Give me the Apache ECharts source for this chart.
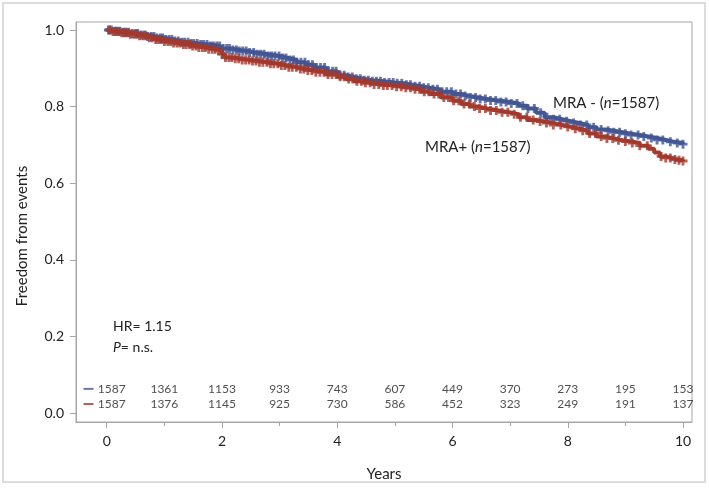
<!DOCTYPE html>
<html><head><meta charset="utf-8">
<script src="https://cdn.jsdelivr.net/npm/echarts@6/dist/echarts.min.js"></script>
<style>html,body{margin:0;padding:0;background:#fff}#c{width:709px;height:489px}</style>
</head><body><div id="c"></div>
<script>
// Kaplan-Meier step points [years, survival]
const mraMinusSteps = [[0,1.000],[0.1,0.997],[0.25,0.994],[0.4,0.991],[0.55,0.987],[0.7,0.983],[0.85,0.979],[1.0,0.975],[1.15,0.971],[1.3,0.968],[1.45,0.965],[1.6,0.962],[1.8,0.958],[1.97,0.952],[2.15,0.948],[2.3,0.945],[2.45,0.941],[2.6,0.937],[2.8,0.932],[3.0,0.927],[3.15,0.922],[3.3,0.916],[3.45,0.909],[3.6,0.902],[3.8,0.892],[4.0,0.882],[4.15,0.877],[4.3,0.873],[4.45,0.869],[4.6,0.866],[4.8,0.863],[5.0,0.861],[5.15,0.857],[5.3,0.853],[5.45,0.849],[5.6,0.845],[5.8,0.839],[6.0,0.833],[6.15,0.828],[6.3,0.824],[6.45,0.820],[6.6,0.816],[6.8,0.812],[7.0,0.808],[7.15,0.802],[7.3,0.795],[7.45,0.784],[7.6,0.772],[7.75,0.767],[7.9,0.762],[8.05,0.757],[8.2,0.752],[8.35,0.746],[8.5,0.740],[8.65,0.737],[8.8,0.733],[8.95,0.729],[9.1,0.726],[9.25,0.722],[9.4,0.718],[9.55,0.713],[9.7,0.708],[9.85,0.705],[10.0,0.702]];
const mraPlusSteps = [[0,1.000],[0.1,0.996],[0.25,0.993],[0.4,0.989],[0.55,0.985],[0.7,0.980],[0.85,0.975],[1.0,0.970],[1.15,0.966],[1.3,0.962],[1.45,0.958],[1.6,0.954],[1.75,0.950],[1.9,0.946],[2.0,0.937],[2.05,0.928],[2.2,0.925],[2.35,0.922],[2.5,0.919],[2.65,0.916],[2.8,0.912],[3.0,0.907],[3.15,0.903],[3.3,0.898],[3.45,0.894],[3.6,0.890],[3.8,0.884],[4.0,0.878],[4.15,0.872],[4.3,0.866],[4.45,0.862],[4.6,0.858],[4.8,0.855],[5.0,0.852],[5.15,0.849],[5.3,0.845],[5.45,0.839],[5.6,0.833],[5.8,0.824],[6.0,0.815],[6.15,0.807],[6.3,0.800],[6.45,0.795],[6.6,0.790],[6.8,0.785],[7.0,0.780],[7.15,0.772],[7.3,0.765],[7.45,0.761],[7.6,0.757],[7.75,0.752],[7.9,0.747],[8.05,0.742],[8.2,0.737],[8.35,0.730],[8.5,0.722],[8.65,0.717],[8.8,0.712],[8.95,0.709],[9.1,0.705],[9.25,0.698],[9.4,0.690],[9.5,0.680],[9.6,0.670],[9.7,0.666],[9.8,0.662],[9.9,0.660],[10.0,0.658]];
// censoring times (years)
const mraMinusCensor = [0.03,0.08,0.14,0.18,0.23,0.29,0.33,0.38,0.44,0.5,0.54,0.6,0.66,0.71,0.77,0.82,0.87,0.93,0.97,1.02,1.08,1.13,1.18,1.24,1.3,1.35,1.41,1.46,1.51,1.57,1.63,1.68,1.74,1.8,1.85,1.91,1.96,2.02,2.08,2.13,2.19,2.25,2.3,2.36,2.42,2.48,2.55,2.61,2.67,2.73,2.8,2.86,2.92,2.99,3.05,3.11,3.18,3.24,3.3,3.37,3.44,3.5,3.57,3.64,3.71,3.78,3.85,3.92,3.98,4.05,4.12,4.19,4.26,4.33,4.4,4.47,4.54,4.61,4.68,4.75,4.82,4.9,4.97,5.04,5.12,5.2,5.27,5.35,5.43,5.5,5.58,5.66,5.74,5.82,5.9,5.98,6.06,6.14,6.22,6.31,6.4,6.48,6.57,6.66,6.75,6.84,6.93,7.02,7.12,7.22,7.31,7.42,7.53,7.64,7.75,7.86,7.98,8.1,8.22,8.33,8.45,8.58,8.7,8.8,8.9,9.0,9.1,9.22,9.32,9.45,9.55,9.65,9.78,9.9,10.0];
const mraPlusCensor = [0.05,0.11,0.16,0.21,0.26,0.31,0.36,0.41,0.47,0.52,0.57,0.63,0.68,0.74,0.79,0.85,0.9,0.95,1.0,1.06,1.11,1.16,1.22,1.27,1.33,1.38,1.44,1.49,1.55,1.6,1.66,1.71,1.77,1.83,1.88,1.94,2.0,2.06,2.12,2.17,2.23,2.29,2.35,2.41,2.47,2.53,2.59,2.65,2.71,2.78,2.84,2.9,2.97,3.03,3.09,3.16,3.22,3.29,3.36,3.42,3.49,3.56,3.63,3.7,3.77,3.84,3.91,3.98,4.05,4.12,4.2,4.27,4.34,4.42,4.49,4.57,4.64,4.72,4.8,4.87,4.95,5.03,5.11,5.19,5.27,5.35,5.43,5.51,5.59,5.68,5.76,5.85,5.93,6.02,6.11,6.2,6.29,6.38,6.47,6.57,6.66,6.76,6.86,6.96,7.07,7.18,7.29,7.4,7.52,7.63,7.75,7.88,8.0,8.13,8.26,8.38,8.48,8.58,8.68,8.78,8.88,9.0,9.12,9.25,9.38,9.62,9.7,9.78,9.86,9.93,10.0];
// numbers at risk
const riskYears = [0,1,2,3,4,5,6,7,8,9,10];
const riskMinus = [1587,1361,1153,933,743,607,449,370,273,195,153];
const riskPlus = [1587,1376,1145,925,730,586,452,323,249,191,137];
const yTicks = [0,0.2,0.4,0.6,0.8,1.0];
const xMajor = [0,2,4,6,8,10];
const xMinor = [0,1,2,3,4,5,6,7,8,9,10];

const BLUE = '#445694', RED = '#A23A2E';
const FONT = 'Lato, "Open Sans", sans-serif';
function km(steps, t){ let v = steps[0][1]; for (const s of steps){ if (s[0] <= t) v = s[1]; } return v; }
const plus = 'path://M3.4,0H6.6V3.4H10V6.6H6.6V10H3.4V6.6H0V3.4H3.4Z';
const xmin = -0.533, xmax = 10.156, ymin = -0.0235, ymax = 1.0209;

const chart = echarts.init(document.getElementById('c'), null, {renderer:'canvas'});
chart.setOption({
  animation:false,
  backgroundColor:'#fff',
  textStyle:{fontFamily:FONT},
  grid:{left:76,right:17,top:22,bottom:67,show:true,borderColor:'#a6a6a6',borderWidth:1},
  xAxis:[{
    type:'value',min:xmin,max:xmax,
    axisLine:{show:true,onZero:false,lineStyle:{color:'#a6a6a6'}},
    axisTick:{show:true,customValues:xMajor,length:6,lineStyle:{color:'#a6a6a6'}},
    axisLabel:{customValues:xMajor,color:'#222',fontSize:14,margin:12,fontFamily:FONT},
    splitLine:{show:false},
    name:'Years',nameLocation:'middle',nameGap:45,nameTextStyle:{fontSize:15,color:'#222',fontFamily:FONT}
  },{
    type:'value',min:xmin,max:xmax,position:'bottom',
    axisLine:{show:false,onZero:false},
    axisTick:{show:true,customValues:xMinor,length:4,lineStyle:{color:'#a6a6a6'}},
    axisLabel:{show:false},splitLine:{show:false}
  }],
  yAxis:{
    type:'value',min:ymin,max:ymax,
    axisLine:{show:true,onZero:false,lineStyle:{color:'#a6a6a6'}},
    axisTick:{show:true,customValues:yTicks,length:6,lineStyle:{color:'#a6a6a6'}},
    axisLabel:{customValues:yTicks,formatter:v=>v.toFixed(1),color:'#222',fontSize:14,margin:12,fontFamily:FONT},
    splitLine:{show:false}
  },
  graphic:[
    {type:'rect',shape:{x:3,y:3,width:702,height:479},style:{fill:'none',stroke:'#dcdcdc',lineWidth:2},silent:true},
    {type:'text',x:22,y:236,rotation:Math.PI/2,style:{text:'Freedom from events',fill:'#222',font:'15px '+FONT,align:'center',verticalAlign:'middle'}},
    {type:'text',x:113,y:326,style:{text:'HR= 1.15',fill:'#222',font:'14px '+FONT,verticalAlign:'middle'}},
    {type:'text',x:113,y:347,style:{text:'{i|P}= n.s.',fill:'#222',font:'14px '+FONT,verticalAlign:'middle',rich:{i:{fontStyle:'italic',fontSize:14,fontFamily:FONT}}}},
    {type:'text',x:553,y:103,style:{text:'MRA - ({i|n}=1587)',fill:'#222',font:'15px '+FONT,verticalAlign:'middle',rich:{i:{fontStyle:'italic',fontSize:15,fontFamily:FONT}}}},
    {type:'text',x:425,y:147,style:{text:'MRA+ ({i|n}=1587)',fill:'#222',font:'15px '+FONT,verticalAlign:'middle',rich:{i:{fontStyle:'italic',fontSize:15,fontFamily:FONT}}}}
  ],
  series:[
    {type:'line',step:'end',data:mraMinusSteps,showSymbol:false,lineStyle:{color:BLUE,width:4},z:3},
    {type:'scatter',data:mraMinusCensor.map(t=>[t,km(mraMinusSteps,t)]),symbol:plus,symbolSize:9,itemStyle:{color:BLUE},z:3},
    {type:'line',step:'end',data:mraPlusSteps,showSymbol:false,lineStyle:{color:RED,width:4},z:4},
    {type:'scatter',data:mraPlusCensor.map(t=>[t,km(mraPlusSteps,t)]),symbol:plus,symbolSize:9,itemStyle:{color:RED},z:4},
    {type:'scatter',data:riskYears.map((t,i)=>[t,0.063,riskMinus[i]]),symbolSize:0,silent:true,
     label:{show:true,position:'inside',formatter:p=>p.value[2],color:'#222',fontSize:12,fontFamily:FONT},
     labelLayout:p=>p.dataIndex===0?{dx:5}:{}},
    {type:'scatter',data:riskYears.map((t,i)=>[t,0.0235,riskPlus[i]]),symbolSize:0,silent:true,
     label:{show:true,position:'inside',formatter:p=>p.value[2],color:'#222',fontSize:12,fontFamily:FONT},
     labelLayout:p=>p.dataIndex===0?{dx:5}:{}},
    {type:'scatter',data:[[-0.316,0.063]],symbol:'rect',symbolSize:[10,2],itemStyle:{color:BLUE},silent:true},
    {type:'scatter',data:[[-0.316,0.0235]],symbol:'rect',symbolSize:[10,2],itemStyle:{color:RED},silent:true}
  ]
});
</script></body></html>
